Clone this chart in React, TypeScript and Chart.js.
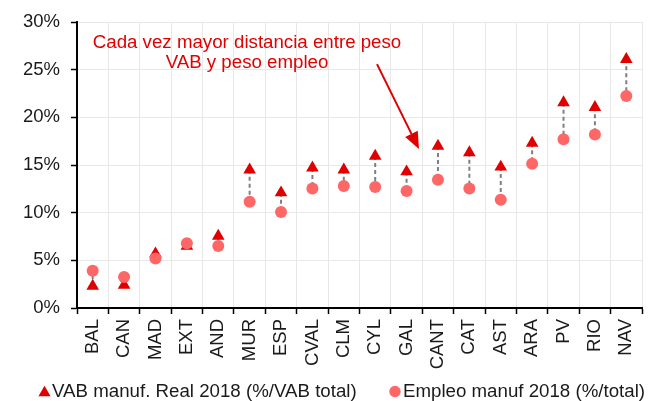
import { useEffect, useRef } from 'react';
import { Chart, registerables } from 'chart.js';

Chart.register(...registerables);

const categories = ['BAL', 'CAN', 'MAD', 'EXT', 'AND', 'MUR', 'ESP', 'CVAL', 'CLM', 'CYL', 'GAL', 'CANT', 'CAT', 'AST', 'ARA', 'PV', 'RIO', 'NAV'];
const vabValues = [2.3, 2.4, 5.7, 6.5, 7.55, 14.5, 12.1, 14.7, 14.5, 15.95, 14.3, 17.0, 16.3, 14.8, 17.3, 21.55, 21.06, 26.1];
const empleoValues = [3.9, 3.25, 5.2, 6.8, 6.5, 11.15, 10.07, 12.55, 12.8, 12.7, 12.27, 13.45, 12.55, 11.36, 15.14, 17.7, 18.2, 22.25];
const yMin = 0;
const yMax = 30;
const yStep = 5;
const seriesLabels = ['VAB manuf. Real 2018 (%/VAB total)', 'Empleo manuf 2018 (%/total)'];
const annotationLines = ['Cada vez mayor distancia entre peso', 'VAB y peso empleo'];

const FONT = '"Liberation Sans", Arial, sans-serif';
const RED = '#e00000';
const SALMON = '#ff6666';
const TEXT = '#1a1a1a';

const connectorPlugin = {
  id: 'connectors',
  beforeDatasetsDraw(chart: any) {
    const vabMeta = chart.getDatasetMeta(0);
    const empMeta = chart.getDatasetMeta(1);
    const ctx = chart.ctx;
    ctx.save();
    ctx.strokeStyle = '#7f7f7f';
    ctx.lineWidth = 2;
    ctx.setLineDash([4, 3]);
    for (let i = 0; i < categories.length; i++) {
      const a = vabMeta.data[i];
      const b = empMeta.data[i];
      if (!a || !b) continue;
      ctx.beginPath();
      ctx.moveTo(a.x, a.y);
      ctx.lineTo(b.x, b.y);
      ctx.stroke();
    }
    ctx.restore();
  },
};

const annotationPlugin = {
  id: 'annotation',
  afterDatasetsDraw(chart: any) {
    const { ctx, chartArea } = chart;
    ctx.save();
    ctx.fillStyle = RED;
    ctx.font = `18.7px ${FONT}`;
    ctx.textAlign = 'center';
    ctx.textBaseline = 'middle';
    const cx = chartArea.left + 170;
    ctx.fillText(annotationLines[0], cx, chartArea.top + 21);
    ctx.fillText(annotationLines[1], cx, chartArea.top + 41);
    // arrow
    const x1 = chartArea.left + 300;
    const y1 = chartArea.top + 42;
    const x2 = chartArea.left + 342;
    const y2 = chartArea.top + 127;
    const ang = Math.atan2(y2 - y1, x2 - x1);
    const headLen = 17;
    const headHalf = 7;
    const bx = x2 - Math.cos(ang) * headLen;
    const by = y2 - Math.sin(ang) * headLen;
    ctx.strokeStyle = RED;
    ctx.lineWidth = 2;
    ctx.beginPath();
    ctx.moveTo(x1, y1);
    ctx.lineTo(bx, by);
    ctx.stroke();
    ctx.beginPath();
    ctx.moveTo(x2, y2);
    ctx.lineTo(bx + Math.sin(ang) * headHalf, by - Math.cos(ang) * headHalf);
    ctx.lineTo(bx - Math.sin(ang) * headHalf, by + Math.cos(ang) * headHalf);
    ctx.closePath();
    ctx.fill();
    ctx.restore();
  },
};

const legendPlugin = {
  id: 'customLegend',
  afterDraw(chart: any) {
    const ctx = chart.ctx;
    const y = 391.5;
    ctx.save();
    ctx.font = `18.7px ${FONT}`;
    ctx.textBaseline = 'middle';
    ctx.textAlign = 'left';
    // item 1: triangle
    const tx = 44.5;
    const r = 7;
    ctx.fillStyle = RED;
    ctx.beginPath();
    ctx.moveTo(tx, y - 0.75 * r - 0.5);
    ctx.lineTo(tx + r * 0.866, y + 0.75 * r - 0.5);
    ctx.lineTo(tx - r * 0.866, y + 0.75 * r - 0.5);
    ctx.closePath();
    ctx.fill();
    ctx.fillStyle = TEXT;
    ctx.fillText(seriesLabels[0], 52, y);
    // item 2: circle
    ctx.fillStyle = SALMON;
    ctx.beginPath();
    ctx.arc(395, y, 5.7, 0, Math.PI * 2);
    ctx.fill();
    ctx.fillStyle = TEXT;
    ctx.fillText(seriesLabels[1], 403, y);
    ctx.restore();
  },
};

export default function App() {
  const canvasRef = useRef<HTMLCanvasElement | null>(null);

  useEffect(() => {
    if (!canvasRef.current) return;
    Chart.defaults.font.family = FONT;
    const chart = new Chart(canvasRef.current, {
      type: 'line',
      data: {
        labels: categories,
        datasets: [
          {
            label: seriesLabels[0],
            data: vabValues,
            showLine: false,
            pointStyle: 'triangle',
            pointRadius: 7.3,
            pointHoverRadius: 7.3,
            pointBackgroundColor: RED,
            pointBorderColor: RED,
            pointBorderWidth: 0,
            order: 1,
          },
          {
            label: seriesLabels[1],
            data: empleoValues,
            showLine: false,
            pointStyle: 'circle',
            pointRadius: 6,
            pointHoverRadius: 6,
            pointBackgroundColor: SALMON,
            pointBorderColor: SALMON,
            pointBorderWidth: 0,
            order: 0,
          },
        ],
      },
      options: {
        responsive: false,
        animation: false,
        devicePixelRatio: 1,
        layout: { padding: { top: 22, right: 18, left: 0, bottom: 0 } },
        plugins: {
          legend: { display: false },
          tooltip: { enabled: false },
        },
        events: [],
        scales: {
          x: {
            type: 'category',
            offset: true,
            grid: {
              offset: true,
              color: '#e8e8e8',
              lineWidth: 1,
              drawTicks: true,
              tickLength: 6,
              tickColor: '#000',
              tickWidth: 1.5,
            },
            border: { color: '#000', width: 2 },
            ticks: {
              autoSkip: false,
              minRotation: 90,
              maxRotation: 90,
              padding: 5,
              color: TEXT,
              font: { size: 18.5, family: FONT },
            },
            afterFit: (scale: any) => {
              scale.height = 93;
            },
          },
          y: {
            min: yMin,
            max: yMax,
            grid: {
              color: '#e8e8e8',
              lineWidth: 1,
              drawTicks: true,
              tickLength: 6,
              tickColor: '#000',
              tickWidth: 1.5,
            },
            border: { color: '#000', width: 2 },
            ticks: {
              stepSize: yStep,
              padding: 11,
              color: TEXT,
              font: { size: 18.5, family: FONT },
              callback: (v: any) => `${v}%`,
            },
            afterFit: (scale: any) => {
              scale.width = 77;
            },
          },
        },
      },
      plugins: [connectorPlugin, annotationPlugin, legendPlugin],
    });
    return () => chart.destroy();
  }, []);

  return (
    <div style={{ position: 'absolute', left: 0, top: 0, width: 660, height: 401, background: '#fff' }}>
      <canvas ref={canvasRef} width={660} height={401} style={{ display: 'block' }} />
    </div>
  );
}
